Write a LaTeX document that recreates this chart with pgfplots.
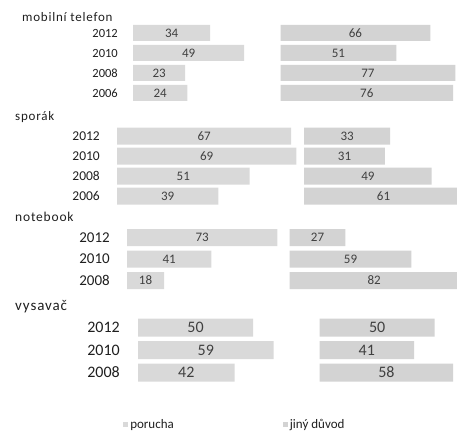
\documentclass[border=0pt]{standalone}
\usepackage{fontspec}
\setmainfont{Carlito}
\newfontfamily\titlefont[LetterSpace=6]{Carlito}
\usepackage{pgfplots}
\usepackage{pgfplotstable}
\pgfplotsset{compat=1.18}
\definecolor{barL}{HTML}{D9D9D9}
\definecolor{barR}{HTML}{D3D3D3}
\definecolor{txt}{HTML}{1F1F1F}
\definecolor{lab}{HTML}{404040}

\pgfplotstableread{
row year por jiny
0 2012 34 66
1 2010 49 51
2 2008 23 77
3 2006 24 76
}\mobil
\pgfplotstableread{
row year por jiny
0 2012 67 33
1 2010 69 31
2 2008 51 49
3 2006 39 61
}\sporak
\pgfplotstableread{
row year por jiny
0 2012 73 27
1 2010 41 59
2 2008 18 82
}\notebook
\pgfplotstableread{
row year por jiny
0 2012 50 50
1 2010 59 41
2 2008 42 58
}\vysavac

\pgfplotsset{
  grp/.style={
    scale only axis, anchor=north west, y dir=reverse, clip=false,
    axis line style={draw=none}, tick style={draw=none},
    xtick=\empty, xmin=0, ymin=-0.5,
    yticklabel style={anchor=east, inner sep=0pt, text=txt},
  },
  barax/.style={grp, xbar stacked},
  labax/.style={grp, xbar, ytick=\empty,
    every node near coord/.append style={anchor=center, text=lab}},
}

\newcommand{\bars}[2]{%
  \addplot[fill=barL, draw=none] table[y=row, x=por]{#1};
  \addplot[fill=none, draw=none, forget plot] table[y=row, x expr=#2-\thisrow{por}]{#1};
  \addplot[fill=barR, draw=none] table[y=row, x=jiny]{#1};
}
\newcommand{\labels}[2]{%
  \addplot[fill=none, draw=none, nodes near coords, point meta=explicit symbolic]
    table[y=row, x expr=\thisrow{por}/2, meta=por]{#1};
  \addplot[fill=none, draw=none, nodes near coords, point meta=explicit symbolic]
    table[y=row, x expr=#2+\thisrow{jiny}/2, meta=jiny]{#1};
}

\begin{document}
\begin{tikzpicture}[x=1pt,y=1pt]
\path[use as bounding box] (0,0) rectangle (457,437);

% mobilni telefon
\node[anchor=west, inner sep=0pt, text=txt, font=\titlefont\fontsize{13}{15}\selectfont] at (22,420) {mobilní telefon};
\begin{axis}[barax, at={(133pt,414pt)}, width=324.6pt, height=80pt,
  xmax=143, ymax=3.5, bar width=16pt,
  ytick={0,1,2,3}, yticklabels from table={\mobil}{year},
  yticklabel style={xshift=-15pt, font=\fontsize{12.5}{14}\selectfont}]
  \bars{\mobil}{65}
\end{axis}
\begin{axis}[labax, at={(133pt,414pt)}, width=324.6pt, height=80pt,
  xmax=143, ymax=3.5, bar width=16pt, bar shift=0pt,
  every node near coord/.append style={font=\fontsize{13}{15}\selectfont}]
  \labels{\mobil}{65}
\end{axis}

% sporak
\node[anchor=west, inner sep=0pt, text=txt, font=\titlefont\fontsize{13}{15}\selectfont] at (15,320) {sporák};
\begin{axis}[barax, at={(117pt,311pt)}, width=340.6pt, height=80pt,
  xmax=131, ymax=3.5, bar width=17pt,
  ytick={0,1,2,3}, yticklabels from table={\sporak}{year},
  yticklabel style={xshift=-17pt, font=\fontsize{13.5}{15}\selectfont}]
  \bars{\sporak}{72}
\end{axis}
\begin{axis}[labax, at={(117pt,311pt)}, width=340.6pt, height=80pt,
  xmax=131, ymax=3.5, bar width=17pt, bar shift=0pt,
  every node near coord/.append style={font=\fontsize{13}{15}\selectfont}]
  \labels{\sporak}{72}
\end{axis}

% notebook
\node[anchor=west, inner sep=0pt, text=txt, font=\titlefont\fontsize{13.5}{15}\selectfont] at (15,220) {notebook};
\begin{axis}[barax, at={(127pt,210.25pt)}, width=329.6pt, height=64.5pt,
  xmax=160, ymax=2.5, bar width=17pt,
  ytick={0,1,2}, yticklabels from table={\notebook}{year},
  yticklabel style={xshift=-17pt, font=\fontsize{15}{17}\selectfont}]
  \bars{\notebook}{79}
\end{axis}
\begin{axis}[labax, at={(127pt,210.25pt)}, width=329.6pt, height=64.5pt,
  xmax=160, ymax=2.5, bar width=17pt, bar shift=0pt,
  every node near coord/.append style={font=\fontsize{13}{15}\selectfont}]
  \labels{\notebook}{79}
\end{axis}

% vysavac
\node[anchor=west, inner sep=0pt, text=txt, font=\titlefont\fontsize{15}{17}\selectfont] at (15,130) {vysavač};
\begin{axis}[barax, at={(138pt,120.75pt)}, width=319.7pt, height=67.5pt,
  xmax=139, ymax=2.5, bar width=18pt,
  ytick={0,1,2}, yticklabels from table={\vysavac}{year},
  yticklabel style={xshift=-18pt, font=\fontsize{16}{18}\selectfont},
  legend columns=2,
  legend image code/.code={\path[#1] (0pt,-2.5pt) rectangle (5pt,2.5pt);},
  legend style={draw=none, fill=none, at={(axis cs:-7.8,4.33)}, anchor=west,
    font=\fontsize{13}{15}\selectfont, text=txt,
    /tikz/every even column/.append style={column sep=107pt}},
  legend cell align=left]
  \bars{\vysavac}{79}
  \legend{porucha, jiný důvod}
\end{axis}
\begin{axis}[labax, at={(138pt,120.75pt)}, width=319.7pt, height=67.5pt,
  xmax=139, ymax=2.5, bar width=18pt, bar shift=0pt,
  every node near coord/.append style={font=\fontsize{16}{18}\selectfont}]
  \labels{\vysavac}{79}
\end{axis}
\end{tikzpicture}
\end{document}
